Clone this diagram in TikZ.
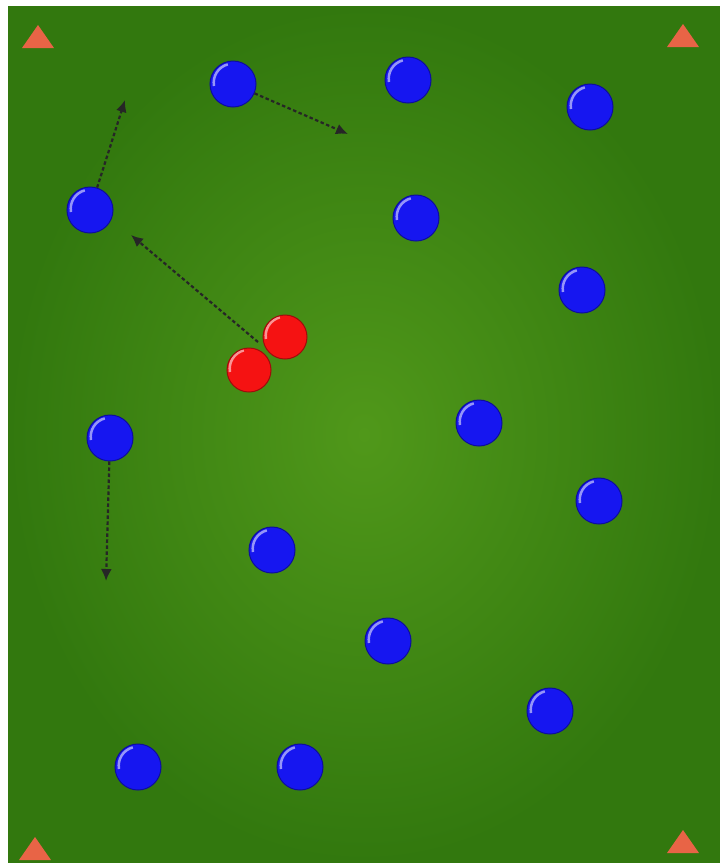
\documentclass[tikz,border=0pt]{standalone}
\usetikzlibrary{arrows.meta}
\definecolor{grass}{RGB}{66,140,20}
\definecolor{grasscenter}{RGB}{80,152,26}
\definecolor{grassdark}{RGB}{50,120,14}
\definecolor{conecol}{RGB}{232,100,70}
\definecolor{bluep}{RGB}{22,22,240}
\definecolor{redp}{RGB}{245,18,18}
\tikzset{
  x=1pt,y=-1pt,
  player/.style={circle,minimum size=46pt,inner sep=0pt,line width=1pt,
    path picture={\draw[white,opacity=0.55,line width=2.5pt] ([xshift=-19pt,yshift=-2pt]path picture bounding box.center) arc (190:105:19pt);}},
  bluepl/.style={player,fill=bluep,draw=bluep!65!black},
  redpl/.style={player,minimum size=44pt,fill=redp,draw=redp!65!black},
  cone/.style={fill=conecol,draw=none},
  run/.style={draw=black!85,line width=2.2pt,dash pattern=on 3.5pt off 2.5pt,-{Latex[length=12pt,width=11pt]}}
}
\begin{document}
\begin{tikzpicture}
\useasboundingbox (0,0) rectangle (720,863);
\fill[white] (0,0) rectangle (720,863);
\fill[grass] (8,6) rectangle (720,863);
\shade[inner color=grasscenter, outer color=grassdark] (8,6) rectangle (720,863);
% cones
\foreach \cx/\cy in {38/38, 683/37, 35/850, 683/843}{
  \fill[cone] (\cx-16,\cy+10) -- (\cx,\cy-13) -- (\cx+16,\cy+10) -- cycle;
}
% blue players
\node[bluepl] (b1) at (233,84) {};
\node[bluepl] (b2) at (408,80) {};
\node[bluepl] (b3) at (590,107) {};
\node[bluepl] (b4) at (90,210) {};
\node[bluepl] (b5) at (416,218) {};
\node[bluepl] (b6) at (582,290) {};
\node[bluepl] (b7) at (110,438) {};
\node[bluepl] (b8) at (479,423) {};
\node[bluepl] (b9) at (599,501) {};
\node[bluepl] (b10) at (272,550) {};
\node[bluepl] (b11) at (388,641) {};
\node[bluepl] (b12) at (550,711) {};
\node[bluepl] (b13) at (138,767) {};
\node[bluepl] (b14) at (300,767) {};
% targets
\coordinate (t1) at (348,134);
\coordinate (t4) at (125,100);
\coordinate (tr) at (131,235);
\coordinate (t7) at (106,581);
% arrows (behind red)
\draw[run] (b1) -- (t1);
\draw[run] (b4) -- (t4);
\draw[run] (b7) -- (t7);
\coordinate (rs) at (258,342);
\draw[run] (rs) -- (tr);
% red players
\node[redpl] (r1) at (285,337) {};
\node[redpl] (r2) at (249,370) {};
\end{tikzpicture}
\end{document}
